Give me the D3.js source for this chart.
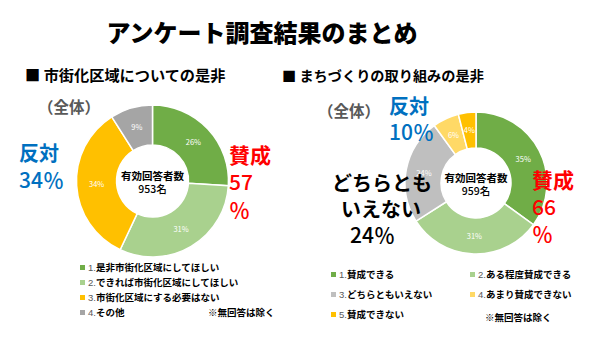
<!DOCTYPE html>
<html><head><meta charset="utf-8">
<script src="https://cdn.jsdelivr.net/npm/d3@7"></script>
<style>
body{margin:0;background:#fff;}
text{font-family:"Noto Sans CJK JP","Noto Sans",sans-serif;}
</style></head>
<body><svg id="c" width="600" height="337"></svg>
<script>
const title = "アンケート調査結果のまとめ";
const leftTitle = "■ 市街化区域についての是非";
const rightTitle = "■ まちづくりの取り組みの是非";
const leftCategories = ["是非市街化区域にしてほしい","できれば市街化区域にしてほしい","市街化区域にする必要はない","その他"];
const leftValues = [26,31,34,9];
const leftColors = ["#70AD47","#A9D18E","#FFC000","#A5A5A5"];
const rightCategories = ["賛成できる","ある程度賛成できる","どちらともいえない","あまり賛成できない","賛成できない"];
const rightValues = [35,31,24,6,4];
const rightColors = ["#70AD47","#A9D18E","#BFBFBF","#FFD966","#FFC000"];
const leftRespondents = "953名";
const rightRespondents = "959名";

const svg = d3.select("#c");
svg.append("text").attr("x",262).attr("y",42).attr("text-anchor","middle")
  .attr("font-size",24).attr("font-weight",900).attr("fill","#000").text(title);
svg.append("text").attr("x",25).attr("y",81).attr("font-size",15.2).attr("font-weight",700).text(leftTitle);
svg.append("text").attr("x",282).attr("y",81).attr("font-size",14.2).attr("font-weight",700).text(rightTitle);

function donut(cx, cy, rO, rI, values, colors, resp){
  const g = svg.append("g").attr("transform",`translate(${cx},${cy})`);
  const pie = d3.pie().sort(null).value(d=>d)(values);
  const arc = d3.arc().innerRadius(rI).outerRadius(rO);
  g.selectAll("path").data(pie).join("path").attr("d",arc)
    .attr("fill",(d,i)=>colors[i]).attr("stroke","#fff").attr("stroke-width",1.5);
  const la = d3.arc().innerRadius((rO+rI)/2).outerRadius((rO+rI)/2);
  g.selectAll("text.lab").data(pie).join("text").attr("class","lab")
    .attr("transform",d=>`translate(${la.centroid(d)})`)
    .attr("text-anchor","middle").attr("dy","0.35em")
    .attr("font-size",7.5).attr("fill","#fff").text(d=>d.data+"%");
  g.append("text").attr("x",0).attr("y",-1).attr("text-anchor","middle")
    .attr("font-size",10.5).attr("font-weight",700).text("有効回答者数");
  g.append("text").attr("x",0).attr("y",12).attr("text-anchor","middle")
    .attr("font-size",10.5).attr("font-weight",500).text(resp);
  return g;
}
donut(152.5,181,76,36,leftValues,leftColors,leftRespondents);
donut(476,183,71,35,rightValues,rightColors,rightRespondents);

function txt(x,y,s,size,color,weight){
  svg.append("text").attr("x",x).attr("y",y).attr("font-size",size)
    .attr("font-weight",weight||700).attr("fill",color).text(s);
}
// left annotations
txt(38,113,"（全体）",15.5,"#595959",700);
txt(19,161,"反対",20,"#0070C0",700);
txt(19,188,"34％",21,"#0070C0",500);
txt(229,163,"賛成",21,"#FF0000",700);
txt(229,190,"57",21,"#FF0000",500);
txt(229,218,"％",21,"#FF0000",500);
// right annotations
txt(318,117,"（全体）",15.5,"#595959",700);
txt(389,114,"反対",20,"#0070C0",700);
txt(389,140,"10％",21,"#0070C0",500);
txt(332,191,"どちらとも",20,"#000",700);
txt(341,217,"いえない",20,"#000",700);
txt(350,243,"24％",21,"#000",500);
txt(532,188,"賛成",21,"#FF0000",700);
txt(532,215,"66",21,"#FF0000",500);
txt(532,242,"％",21,"#FF0000",500);

// legends
function legendItem(x,y,i,label,color){
  svg.append("rect").attr("x",x).attr("y",y-6).attr("width",5).attr("height",5).attr("fill",color);
  const t = svg.append("text").attr("x",x+8).attr("y",y).attr("font-size",9.5);
  t.append("tspan").attr("fill","#595959").attr("font-family","Liberation Sans, sans-serif").text((i+1)+".");
  t.append("tspan").attr("font-weight",700).attr("fill","#000").text(label);
}
const lRows=[271,286,301,316];
leftCategories.forEach((c,i)=>legendItem(80,lRows[i],i,c,leftColors[i]));
txt(208,316,"※無回答は除く",9.5,"#000",700);
const rPos=[[331,278],[470,278],[331,298],[470,298],[331,318]];
rightCategories.forEach((c,i)=>legendItem(rPos[i][0],rPos[i][1],i,c,rightColors[i]));
txt(485,321,"※無回答は除く",9.5,"#000",700);
</script></body></html>
